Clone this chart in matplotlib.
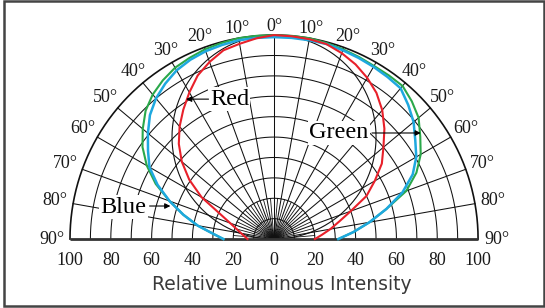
import numpy as np
import matplotlib
matplotlib.use("Agg")
import matplotlib.pyplot as plt
from matplotlib.patches import Rectangle

# angle from the vertical axis (deg), left side negative
angles = [-90, -85, -80, -75, -70, -65, -60, -55, -50, -45, -40, -35, -30, -25, -20, -15, -10, -5,
          0, 5, 10, 15, 20, 25, 30, 35, 40, 45, 50, 55, 60, 65, 70, 75, 80, 85, 90]

red = [13, 14.4, 16.4, 19, 22.9, 29.2, 41, 50.7, 59, 66, 72, 77.5, 83, 88.5, 92.4, 95.8, 97.2, 98.8,
       100, 99.8, 99.5, 99, 97, 94.5, 91.3, 87.5, 82.5, 76.5, 70, 64.5, 57, 50, 40, 33, 28, 23.5, 20]
green = [24.8, 30, 38, 46, 54.5, 64, 72, 78.7, 84, 89, 92.5, 95, 97, 98, 99, 99.5, 100, 100,
         100, 100, 100, 99.5, 99, 98.5, 98, 98, 98, 95.5, 92.5, 87.5, 83, 77, 69, 57, 47.5, 39, 31.5]
blue = [24.8, 30, 38, 46, 54.5, 63, 70.5, 75.4, 80.7, 86, 90, 93, 95.5, 97, 98, 98.5, 99, 99,
        99, 99, 99, 99, 98.5, 98, 97.5, 97, 96.5, 93, 89.3, 84.5, 80.5, 75, 67, 57, 47.5, 39, 31.5]

x_ticks = [-100, -80, -60, -40, -20, 0, 20, 40, 60, 80, 100]
x_labels = ['100', '80', '60', '40', '20', '0', '20', '40', '60', '80', '100']
angle_ticks = [-90, -80, -70, -60, -50, -40, -30, -20, -10, 0, 10, 20, 30, 40, 50, 60, 70, 80, 90]

serif = 'Liberation Serif'


def to_xy(deg, r):
    t = np.radians(deg)
    return np.asarray(r) * np.sin(t), np.asarray(r) * np.cos(t)


fig = plt.figure(figsize=(5.45, 3.08), dpi=100)
ax = fig.add_axes([0, 0, 1, 1])
ax.set_xlim(-134.3, 132.8)
ax.set_ylim(-33.8, 117.2)
ax.axis('off')

# polar grid
th = np.linspace(-90, 90, 361)
for r in range(10, 100, 10):
    gx, gy = to_xy(th, r)
    ax.plot(gx, gy, color='#111111', lw=0.75, zorder=1)
gx, gy = to_xy(th, 100)
ax.plot(gx, gy, color='#111111', lw=1.2, zorder=1)
for a in range(-80, 81, 10):
    gx, gy = to_xy([a, a], [0, 100])
    ax.plot(gx, gy, color='#111111', lw=0.75, zorder=1)
for a in range(-85, 86, 10):
    gx, gy = to_xy([a, a], [0, 20])
    ax.plot(gx, gy, color='#111111', lw=0.6, zorder=1)
# cosine reference
gx, gy = to_xy(th, 100 * np.cos(np.radians(th)))
ax.plot(gx, gy, color='#111111', lw=0.8, zorder=1)
ax.plot([-100, 100], [0, 0], color='#333333', lw=2.0, zorder=2, solid_capstyle='butt')

# curves
gx, gy = to_xy(angles, green)
ax.plot(gx, gy, color='#2aa84a', lw=1.5, zorder=3)
gx, gy = to_xy(angles, blue)
ax.plot(gx, gy, color='#1ea8df', lw=1.8, zorder=4)
gx, gy = to_xy(angles, red)
ax.plot(gx, gy, color='#e8202a', lw=1.5, zorder=5)

# angle labels
for a in angle_ticks:
    rr = 104 + 5 * np.sin(np.radians(abs(a)))
    lx, ly = to_xy(a, rr)
    ax.text(lx, ly, f'{abs(a)}°', family=serif, fontsize=13, ha='center', va='center', color='#1a1a1a')

for xv, lab in zip(x_ticks, x_labels):
    ax.text(xv, -10.3, lab, family=serif, fontsize=13, ha='center', va='center', color='#1a1a1a')
ax.text(3.7, -22.5, 'Relative Luminous Intensity', family='DejaVu Sans', fontsize=13.5,
        ha='center', va='center', color='#3a3a3a')

# curve labels
box = dict(fc='white', ec='none', pad=1.0)
ax.text(-21.9, 68.6, 'Red', family=serif, fontsize=17.5, ha='center', va='center', bbox=box, zorder=6)
ax.text(31.9, 52, 'Green', family=serif, fontsize=17.5, ha='center', va='center', bbox=box, zorder=6)
ax.text(-73.8, 15.5, 'Blue', family=serif, fontsize=17.5, ha='center', va='center', bbox=box, zorder=6)
arrow = dict(arrowstyle='-|>', color='k', lw=0.8, mutation_scale=8, shrinkA=0, shrinkB=0)
ax.annotate('', xy=(-43.1, 68.6), xytext=(-32.1, 68.6), arrowprops=arrow, zorder=7)
ax.annotate('', xy=(71.9, 52), xytext=(48, 52), arrowprops=arrow, zorder=7)
ax.annotate('', xy=(-50.8, 16.2), xytext=(-61, 16.2), arrowprops=arrow, zorder=7)

fig.patches.append(Rectangle((0.0073, 0.005), 0.9902, 0.9908, transform=fig.transFigure,
                             fill=False, ec='#444444', lw=1.8))

fig.savefig('out.png', dpi=100)
